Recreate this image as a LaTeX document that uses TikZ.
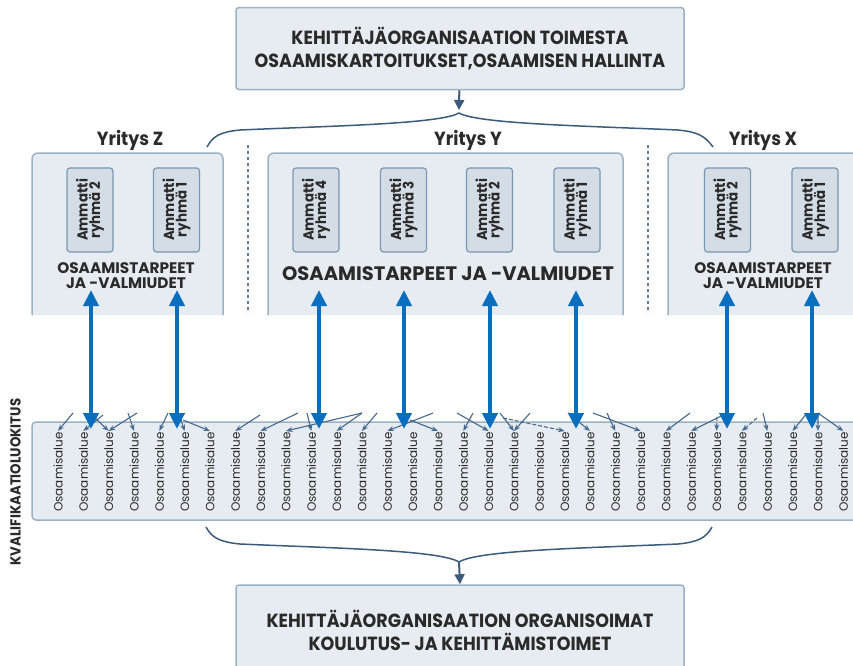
\documentclass[tikz,border=0pt]{standalone}
\usepackage{fontspec}
\setmainfont{Poppins}
\newfontfamily\condfont[FakeStretch=0.92]{Poppins}
\usetikzlibrary{arrows.meta}
\definecolor{boxfill}{HTML}{E6ECF2}
\definecolor{boxline}{HTML}{9DB1C5}
\definecolor{grpfill}{HTML}{D4DDE6}
\definecolor{grpline}{HTML}{7B97B3}
\definecolor{txt}{HTML}{2A2A2A}
\definecolor{needblue}{HTML}{0A6EBE}
\definecolor{darkline}{HTML}{3C5B7A}
\definecolor{flowline}{HTML}{46698C}

\begin{document}
\begin{tikzpicture}[x=1pt,y=-1pt]
        \tikzstyle{mainbox}=[draw=boxline,line width=1.5pt,fill=boxfill,rounded corners=3pt,minimum width=448pt,align=center,text=txt,font=\condfont\bfseries\fontsize{19}{23}\selectfont]
        \tikzstyle{compbox}=[draw=boxline,line width=1.5pt,fill=boxfill,rounded corners=6pt]
        \tikzstyle{grp}=[draw=grpline,line width=1.2pt,fill=grpfill,rounded corners=3pt,rotate=90,minimum width=84pt,minimum height=46pt,inner sep=1pt,align=center,text=txt,font=\condfont\bfseries\fontsize{14.5}{12.5}\selectfont]
        \tikzstyle{firm}=[text=txt,font=\condfont\bfseries\fontsize{19}{20}\selectfont]
        \tikzstyle{needs}=[text=txt,align=center,font=\bfseries\fontsize{15.3}{15}\selectfont]
        \tikzstyle{area}=[rotate=90,inner sep=1pt,text=txt,font=\fontsize{12}{12}\selectfont]
        \tikzstyle{need}=[draw=needblue,line width=4pt,{Triangle[length=16pt,width=15pt]}-{Triangle[length=16pt,width=15pt]}]
        \tikzstyle{flow}=[draw=flowline,line width=1.1pt,-{Stealth[length=6.5pt,width=5pt]}]
        \tikzstyle{brace}=[draw=darkline,line width=1.5pt]
        \tikzstyle{down}=[draw=darkline,line width=2pt,-{Triangle[length=10pt,width=10pt]}]
        \tikzstyle{sep}=[draw=darkline!80,line width=1.5pt,dash pattern=on 3pt off 3pt]
       \useasboundingbox (0,0) rectangle (853,665);
       \clip (0,0) rectangle (853,665);

       % top
       \node [mainbox,minimum height=82pt] (topbox) at (460,48.5) {KEHITTÄJÄORGANISAATION TOIMESTA\\OSAAMISKARTOITUKSET,OSAAMISEN HALLINTA};
       \coordinate (tb) at (459,110);
       \path[down] (topbox) -- (tb);
       \path[brace] (207,147) .. controls (213,136) and (220,132) .. (240,130) .. controls (330,126) and (440,124) .. (459,113)
                    .. controls (478,124) and (588,126) .. (678,130) .. controls (698,132) and (705,136) .. (713,147);

       \node [firm] (yz) at (130,140) {Yritys Z};
       \node [firm] (yy) at (468,140) {Yritys Y};
       \node [firm] (yx) at (763,140) {Yritys X};

       \coordinate (sep1a) at (248,145); \coordinate (sep1b) at (248,313);
       \coordinate (sep2a) at (648,145); \coordinate (sep2b) at (648,313);
       \path[sep] (sep1a) -- (sep1b);
       \path[sep] (sep2a) -- (sep2b);

       % companies
       \filldraw[compbox] (32,315) -- (32,153) -- (223,153) -- (223,315);
       \filldraw[compbox] (268,315) -- (268,153) -- (623,153) -- (623,315);
       \filldraw[compbox] (668,315) -- (668,153) -- (870,153) -- (870,315);

       \node [grp] (z2) at (90,210) {Ammatti\\ryhmä 2};
       \node [grp] (z1) at (176.5,210) {Ammatti\\ryhmä 1};
       \node [grp] (y4) at (316,210) {Ammatti\\ryhmä 4};
       \node [grp] (y3) at (403.5,210) {Ammatti\\ryhmä 3};
       \node [grp] (y2) at (489.5,210) {Ammatti\\ryhmä 2};
       \node [grp] (y1) at (577,210) {Ammatti\\ryhmä 1};
       \node [grp] (x2) at (727.5,210) {Ammatti\\ryhmä 2};
       \node [grp] (x1) at (815,210) {Ammatti\\ryhmä 1};

       \node [needs] (nz) at (126,276) {OSAAMISTARPEET\\JA -VALMIUDET};
       \node [needs,font=\bfseries\fontsize{19.5}{22}\selectfont] (ny) at (448,274) {OSAAMISTARPEET JA -VALMIUDET};
       \node [needs] (nx) at (763,276) {OSAAMISTARPEET\\JA -VALMIUDET};

       % qualification band
       \filldraw[compbox,rounded corners=4pt] (32,422) rectangle (880,520);
       \node [rotate=90,text=txt,font=\condfont\bfseries\fontsize{14.5}{15}\selectfont] (kval) at (15.5,482) {KVALIFIKAATIOLUOKITUS};
       \foreach \i in {1,...,32}
         \node [area] (o\i) at ({58+(\i-1)*25.33},472) {Osaamisalue};

       \foreach \sx/\sy/\c/\d [count=\k] in {73/413/1/0,103/415/2/0,90/413/3/0,137/413/3/0,128/413/4/0,168/413/5/0,180/417/6/0,183/420/7/0,
           260/415/8/0,298/413/9/0,362/413/10/0,307/413/11/0,362/413/12/0,377/413/13/0,433/413/14/0,410/420/16/0,473/413/17/0,457/413/18/0,
           500/413/19/0,530/413/19/0,503/418/21/1,568/413/22/0,607/413/23/0,593/413/24/0,690/413/25/0,723/415/26/0,717/417/27/1,757/418/28/1,
           763/413/29/0,807/413/30/0,818/413/31/0,818/413/32/0}
       {
         \coordinate (s\k) at (\sx,\sy);
         \ifnum\d=1
           \path[flow,dash pattern=on 4pt off 2pt] (s\k) -- (o\c.east);
         \else
           \path[flow] (s\k) -- (o\c.east);
         \fi
       }

       \foreach \x [count=\k] in {91,177,319,404,490,576,727,812}
       {
         \coordinate (nu\k) at (\x,290);
         \coordinate (nd\k) at (\x,429);
         \path[need] (nu\k) -- (nd\k);
       }

       % bottom
       \path[brace] (206,527) .. controls (212,538) and (220,542) .. (240,544) .. controls (330,548) and (440,550) .. (459,562)
                    .. controls (478,550) and (588,548) .. (678,544) .. controls (698,542) and (706,538) .. (712,527);
       \coordinate (bb) at (459,562);
       \node [mainbox,minimum height=90pt] (botbox) at (460,630) {KEHITTÄJÄORGANISAATION ORGANISOIMAT\\KOULUTUS- JA KEHITTÄMISTOIMET};
       \path[down] (bb) -- (botbox.north);
\end{tikzpicture}
\end{document}
